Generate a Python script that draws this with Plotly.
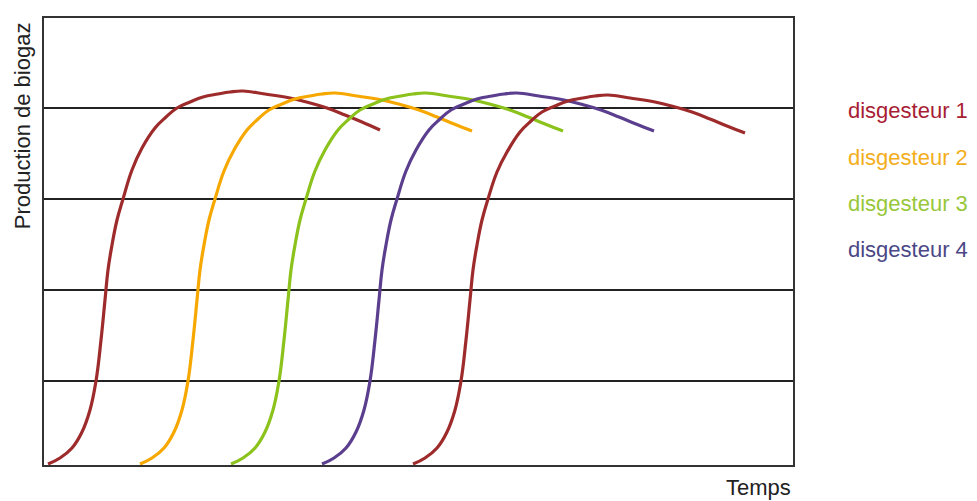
import plotly.graph_objects as go

# Time (arbitrary units) and biogas production (arbitrary units)
c1_x = [4, 16, 28, 38, 46, 52, 57, 61, 64, 68, 73, 79, 88, 98, 111, 122, 133, 146, 159, 174, 186, 199, 221, 246, 266, 283, 301, 318, 336]
c1_y = [1, 7, 17, 33, 55, 84, 125, 165, 195, 220, 245, 266, 295, 317, 337, 348, 357, 363, 368, 371, 373, 374, 371, 367, 362, 357, 350, 343, 335]

c2_x = [96, 108, 120, 130, 138, 144, 149, 153, 156, 160, 165, 171, 180, 190, 203, 214, 225, 238, 251, 266, 278, 291, 313, 338, 358, 375, 393, 410, 428]
c2_y = [1, 7, 17, 33, 55, 84, 125, 165, 195, 220, 245, 266, 294, 315, 335, 346, 355, 361, 366, 369, 371, 372, 369, 365, 360, 355, 348, 341, 334]

c3_x = [187, 199, 211, 221, 229, 235, 240, 244, 247, 251, 256, 262, 271, 281, 294, 305, 316, 329, 342, 357, 369, 382, 404, 429, 449, 466, 484, 501, 519]
c3_y = [1, 7, 17, 33, 55, 84, 125, 165, 195, 220, 245, 266, 294, 315, 335, 346, 355, 361, 366, 369, 371, 372, 369, 365, 360, 355, 348, 341, 334]

c4_x = [278, 290, 302, 312, 320, 326, 331, 335, 338, 342, 347, 353, 362, 372, 385, 396, 407, 420, 433, 448, 460, 473, 495, 520, 540, 557, 575, 592, 610]
c4_y = [1, 7, 17, 33, 55, 84, 125, 165, 195, 220, 245, 266, 294, 315, 335, 346, 355, 361, 366, 369, 371, 372, 369, 365, 360, 355, 348, 341, 334]

c5_x = [369, 381, 393, 403, 411, 417, 422, 426, 429, 433, 438, 444, 453, 463, 476, 487, 498, 511, 524, 539, 551, 564, 586, 611, 631, 648, 666, 683, 701]
c5_y = [1, 7, 17, 33, 55, 84, 125, 165, 195, 220, 245, 266, 293, 313, 333, 344, 353, 359, 364, 367, 369, 370, 367, 363, 358, 353, 346, 339, 332]

grid_y = [84, 175, 266, 357]
x_range = [0, 749]
y_range = [0, 447]

legend_labels = ["disgesteur 1", "disgesteur 2", "disgesteur 3", "disgesteur 4"]
legend_colors = ["#a81c34", "#f3ae1c", "#98c73a", "#4b4786"]
legend_y = [0.794, 0.689, 0.584, 0.481]

curves = [(c1_x, c1_y, "#9e2b2b"), (c2_x, c2_y, "#f7a800"), (c3_x, c3_y, "#8cc21c"),
          (c4_x, c4_y, "#5b3f8e"), (c5_x, c5_y, "#9e2b2b")]

fig = go.Figure()
for xs, ys, col in curves:
    fig.add_trace(go.Scatter(x=xs, y=ys, mode="lines",
                             line=dict(color=col, width=3.2, shape="spline", smoothing=1.2),
                             showlegend=False, hoverinfo="skip"))

font_family = "Arial, Liberation Sans, sans-serif"
for lab, col, yy in zip(legend_labels, legend_colors, legend_y):
    fig.add_annotation(text=lab, xref="paper", yref="paper", x=1.0708, y=yy,
                       xanchor="left", yanchor="middle", showarrow=False,
                       font=dict(family=font_family, size=22, color=col))

fig.add_annotation(text="Production de biogaz", xref="paper", yref="paper",
                   x=-0.0294, y=0.76, textangle=-90, xanchor="center", yanchor="middle",
                   showarrow=False, font=dict(family=font_family, size=22, color="#222222"))
fig.add_annotation(text="Temps", xref="paper", yref="paper", x=1.0, y=-0.05,
                   xanchor="right", yanchor="middle", showarrow=False,
                   font=dict(family=font_family, size=22, color="#222222"))

fig.update_layout(
    width=977, height=501,
    margin=dict(l=44, r=184, t=18, b=36),
    paper_bgcolor="white", plot_bgcolor="white",
    xaxis=dict(range=x_range, showgrid=False, zeroline=False, showticklabels=False,
               ticks="", showline=True, mirror=True, linecolor="#333333", linewidth=2),
    yaxis=dict(range=y_range, tickvals=grid_y, showgrid=True, gridcolor="#222222", gridwidth=1.5,
               zeroline=False, showticklabels=False, ticks="", showline=True, mirror=True,
               linecolor="#333333", linewidth=2),
)

fig.write_html("out.html", config={"displayModeBar": False},
               post_script="document.body.style.margin='0';document.body.style.overflow='hidden';")
